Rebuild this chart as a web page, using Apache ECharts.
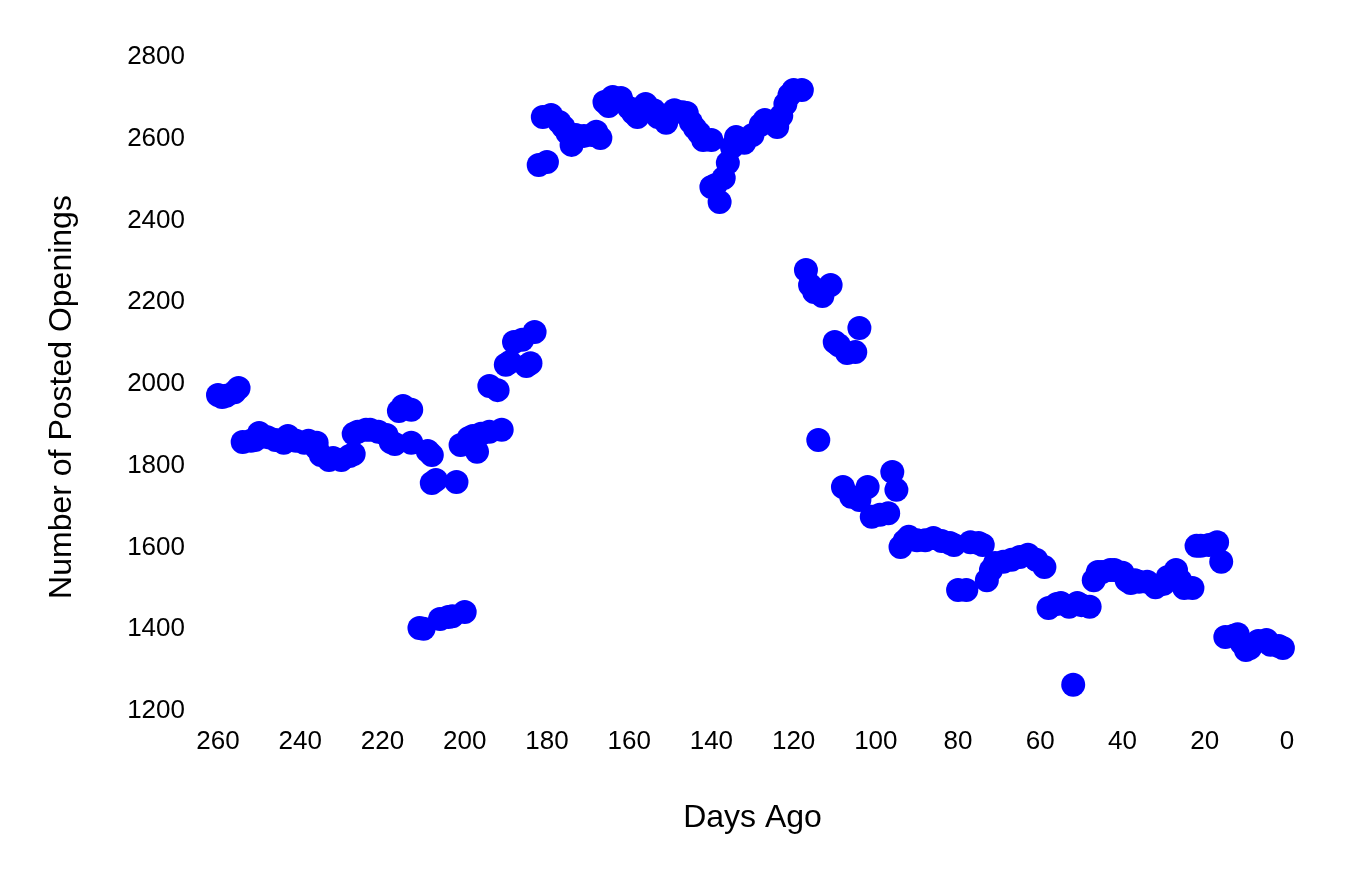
<!DOCTYPE html>
<html>
<head>
<meta charset="utf-8">
<script src="https://cdn.jsdelivr.net/npm/echarts@6/dist/echarts.min.js"></script>
<style>
html,body{margin:0;padding:0;background:#fff;}
#chart{width:1346px;height:878px;}
</style>
</head>
<body>
<div id="chart"></div>
<script>
// Days ago
var daysAgo = [
260,259,258,256,255,
254,252,251,250,248,246,244,243,241,239,238,236,236,235,233,232,230,228,227,227,226,224,223,221,219,218,217,
216,215,213,213,211,210,209,208,208,207,206,204,203,202,201,200,199,198,197,196,194,194,192,191,190,189,188,186,185,184,183,
182,180,181,179,177,176,175,174,173,171,169,168,167,166,165,164,162,160,159,158,157,156,154,153,151,151,149,147,146,145,144,143,142,140,140,139,138,137,136,135,134,132,130,128,127,124,123,122,121,120,118,
117,116,115,113,111,114,110,109,107,105,104,108,106,104,102,101,99,97,96,95,94,93,92,90,88,86,84,82,81,80,78,77,75,74,73,72,71,69,67,65,63,61,59,58,56,55,53,52,51,50,48,47,46,45,43,42,40,39,38,37,36,34,32,30,29,27,26,25,23,22,21,19,17,16,15,13,12,11,10,9,7,5,4,2,1
];
// Number of posted openings
var openings = [
1973,1968,1971,1980,1990,
1858,1861,1863,1880,1870,1863,1856,1873,1861,1856,1861,1856,1843,1826,1814,1819,1814,1824,1829,1878,1883,1888,1888,1883,1875,1858,1853,
1934,1946,1937,1856,1403,1401,1836,1826,1758,1765,1425,1430,1432,1760,1851,1442,1868,1873,1834,1878,1883,1995,1985,1888,2047,2054,2103,2108,2044,2051,2127,
2536,2543,2653,2658,2641,2629,2614,2585,2609,2607,2609,2617,2602,2690,2680,2702,2700,2675,2663,2653,2665,2685,2670,2653,2646,2639,2670,2665,2663,2641,2626,2614,2597,2597,2482,2487,2445,2504,2541,2580,2604,2590,2609,2634,2646,2629,2656,2685,2707,2719,2719,
2279,2242,2225,2215,2242,1863,2103,2095,2076,2078,2137,1748,1724,1716,1748,1675,1680,1684,1785,1741,1601,1616,1626,1618,1618,1623,1616,1611,1606,1496,1496,1613,1611,1606,1520,1545,1562,1565,1570,1577,1582,1570,1552,1452,1462,1464,1455,1264,1464,1459,1455,1520,1540,1540,1545,1545,1538,1520,1513,1520,1516,1516,1503,1511,1528,1545,1520,1501,1501,1604,1604,1606,1613,1565,1381,1384,1388,1366,1349,1354,1371,1374,1362,1359,1354
];
var xTicks = {min: 0, max: 260, interval: 20};
var yTicks = {min: 1200, max: 2800, interval: 200};

var points = daysAgo.map(function(d, i){ return [d, openings[i]]; });

var chart = echarts.init(document.getElementById('chart'), null, {renderer: 'canvas'});
var font = 'Liberation Sans, Arial, sans-serif';
chart.setOption({
  animation: false,
  backgroundColor: '#ffffff',
  grid: {left: 218, right: 59, top: 57, bottom: 167, containLabel: false},
  xAxis: {
    type: 'value', inverse: true,
    min: xTicks.min, max: xTicks.max, interval: xTicks.interval,
    name: 'Days Ago', nameLocation: 'middle', nameGap: 91,
    nameTextStyle: {fontSize: 32, color: '#000', fontFamily: font},
    axisLine: {show: false}, axisTick: {show: false}, splitLine: {show: false},
    axisLabel: {fontSize: 26, color: '#000', fontFamily: font, margin: 18,
      formatter: function(v){ return String(v); }}
  },
  yAxis: {
    type: 'value',
    min: yTicks.min, max: yTicks.max, interval: yTicks.interval,
    name: 'Number of Posted Openings', nameLocation: 'middle', nameGap: 140,
    nameTextStyle: {fontSize: 32, color: '#000', fontFamily: font, padding: [0, 26, 0, 0]},
    axisLine: {show: false}, axisTick: {show: false}, splitLine: {show: false},
    axisLabel: {fontSize: 26, color: '#000', fontFamily: font, margin: 33,
      formatter: function(v){ return String(v); }}
  },
  series: [{
    type: 'scatter',
    data: points,
    symbol: 'circle',
    symbolSize: 24,
    itemStyle: {color: '#0000ff', opacity: 1},
    clip: false
  }]
});
</script>
</body>
</html>
